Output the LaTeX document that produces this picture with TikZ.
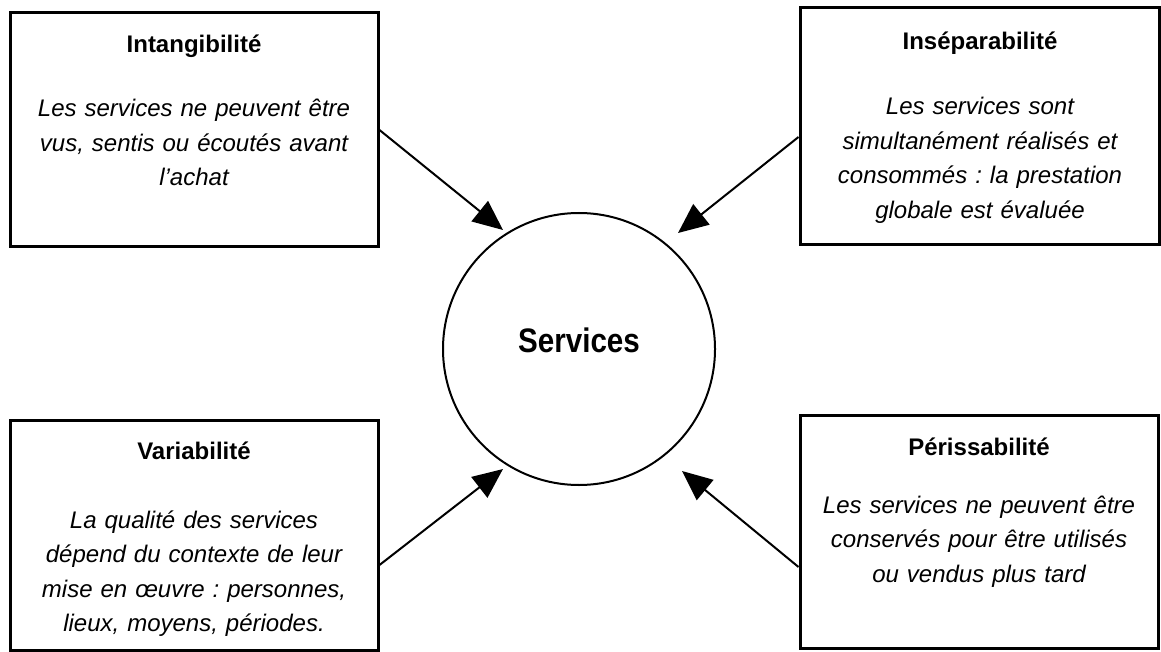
\documentclass[tikz,border=0pt]{standalone}
\usepackage{fontspec}
\setmainfont{Liberation Sans}
\newfontfamily\narrowfont[FakeStretch=0.87]{Liberation Sans}
\usetikzlibrary{arrows.meta}
\frenchspacing
\begin{document}
\begin{tikzpicture}[x=1pt,y=-1pt,
  box/.style={draw, line width=3pt, inner sep=0pt, rectangle},
  ttl/.style={font=\frenchspacing\bfseries\fontsize{24}{28}\selectfont, anchor=base, inner sep=0pt},
  bodytext/.style={font=\frenchspacing\itshape\fontsize{24}{34.5}\selectfont, anchor=base, align=center, text width=360pt, inner sep=0pt},
  arr/.style={line width=2pt, -{Triangle[length=30pt,width=26pt]}},
  ring/.style={draw, circle, line width=2pt, inner sep=0pt, minimum size=272pt}
]
\useasboundingbox (0,0) rectangle (1161,652);
\fill[white] (0,0) rectangle (1161,652);

% boxes
\node[box, minimum width=368pt, minimum height=234pt] (b1) at (194,130) {};
\node[box, minimum width=359pt, minimum height=237pt] (b2) at (979.5,126.5) {};
\node[box, minimum width=368pt, minimum height=230pt] (b3) at (194,535) {};
\node[box, minimum width=358pt, minimum height=233pt] (b4) at (979,531.5) {};

% titles
\node[ttl] (t1) at (194,53) {Intangibilité};
\node[ttl] (t2) at (980,50) {Inséparabilité};
\node[ttl] (t3) at (194,459) {Variabilité};
\node[ttl] (t4) at (979,455) {Périssabilité};

% bodies
\node[bodytext] (d1) at (194,117) {Les services ne peuvent être\\vus, sentis ou écoutés avant\\l’achat};
\node[bodytext] (d2) at (980,115) {Les services sont\\simultanément réalisés et\\consommés : la prestation\\globale est évaluée};
\node[bodytext] (d3) at (194,528) {La qualité des services\\dépend du contexte de leur\\mise en œuvre : personnes,\\lieux, moyens, périodes.};
\node[bodytext] (d4) at (979,513) {Les services ne peuvent être\\conservés pour être utilisés\\ou vendus plus tard};

% centre
\node[ring] (c) at (579,349) {};
\node[anchor=base, inner sep=0pt, font=\narrowfont\bfseries\fontsize{34}{40}\selectfont] (s) at (579,352) {Services};

% arrow tips
\coordinate (p1) at (503,230);
\coordinate (p2) at (678,233);
\coordinate (p3) at (503,469);
\coordinate (p4) at (682,471);

\draw[arr] (b1.east) -- (p1);
\draw[arr] ([yshift=-10.5pt]b2.west) -- (p2);
\draw[arr] ([yshift=-30pt]b3.east) -- (p3);
\draw[arr] ([yshift=-35.5pt]b4.west) -- (p4);
\end{tikzpicture}
\end{document}
